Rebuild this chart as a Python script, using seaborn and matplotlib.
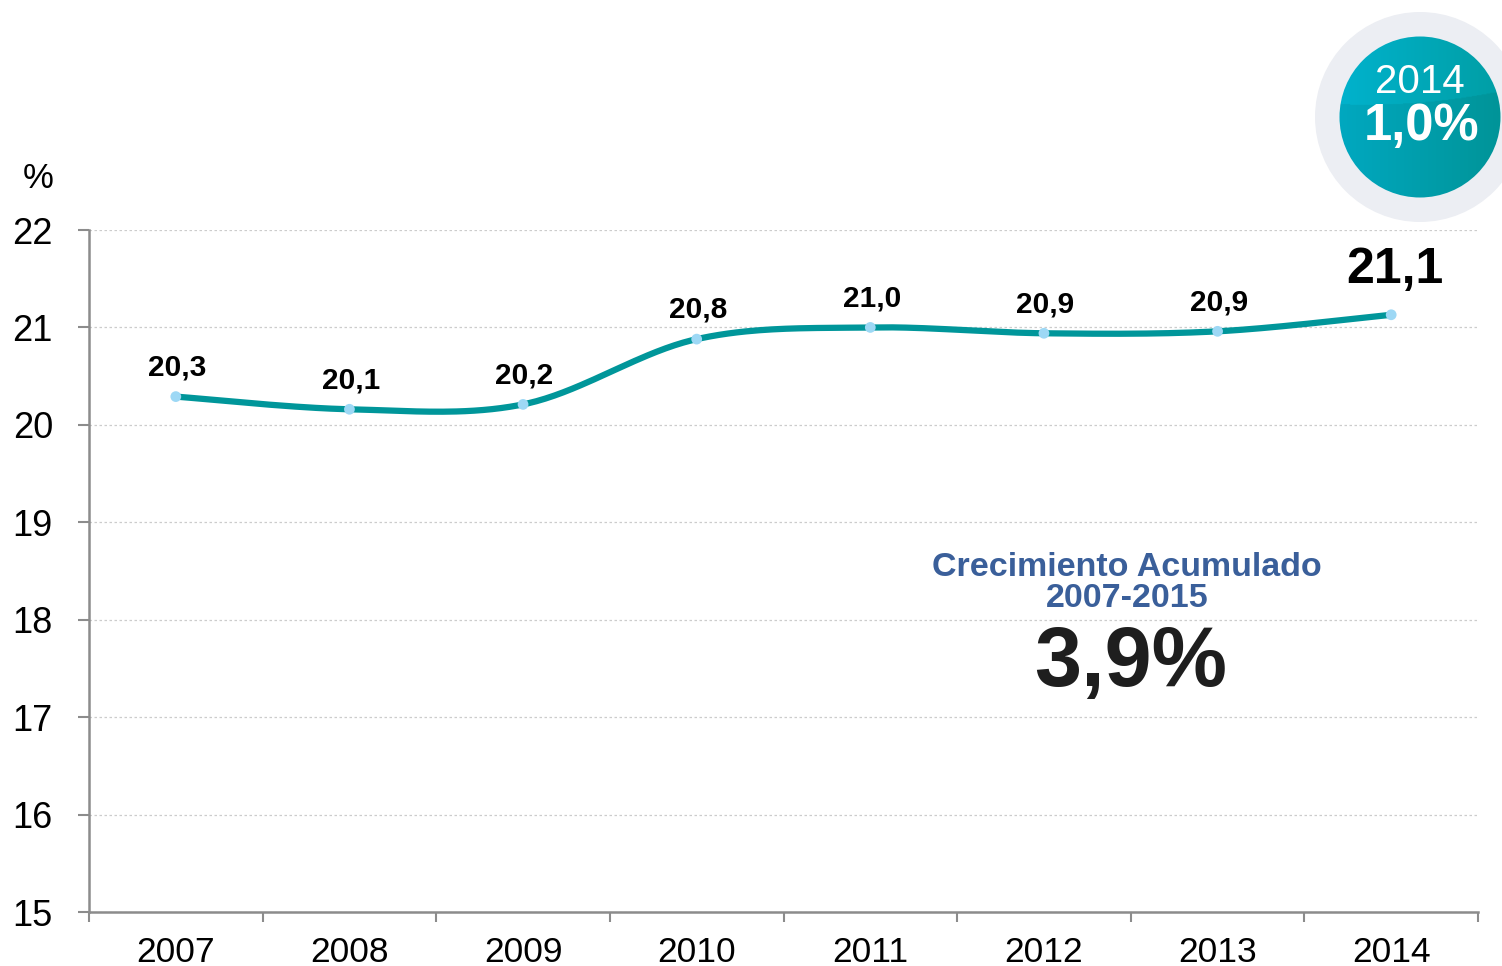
import numpy as np
import matplotlib
matplotlib.use("Agg")
import matplotlib.pyplot as plt
from matplotlib.patches import Circle
import seaborn as sns
import pandas as pd

# ---- data ----
years = ["2007", "2008", "2009", "2010", "2011", "2012", "2013", "2014"]
values = [20.29, 20.16, 20.21, 20.88, 21.00, 20.94, 20.96, 21.13]
labels = ["20,3", "20,1", "20,2", "20,8", "21,0", "20,9", "20,9", "21,1"]
y_ticks = [15, 16, 17, 18, 19, 20, 21, 22]
badge_year = "2014"
badge_value = "1,0%"
growth_title = "Crecimiento Acumulado\n2007-2015"
growth_value = "3,9%"

sns.set_theme(style="white")
plt.rcParams['font.family'] = ['Liberation Sans', 'DejaVu Sans']

W, H = 1502, 966
fig = plt.figure(figsize=(W / 100, H / 100), dpi=100)
ax = fig.add_axes([89 / W, 1 - 912 / H, (1478 - 89) / W, (912 - 230) / H])

x = np.arange(len(years))
y = np.array(values)

# Catmull-Rom style smoothing (like Excel smoothed line)
px = np.concatenate([[x[0]], x, [x[-1]]]).astype(float)
py = np.concatenate([[y[0]], y, [y[-1]]])
sx, sy = [], []
t = np.linspace(0, 1, 40)
for i in range(1, len(px) - 2):
    p0 = np.array([px[i], py[i]])
    p3 = np.array([px[i + 1], py[i + 1]])
    c1 = p0 + (np.array([px[i + 1], py[i + 1]]) - np.array([px[i - 1], py[i - 1]])) / 6
    c2 = p3 - (np.array([px[i + 2], py[i + 2]]) - np.array([px[i], py[i]])) / 6
    for tt in t:
        b = ((1 - tt) ** 3) * p0 + 3 * ((1 - tt) ** 2) * tt * c1 + 3 * (1 - tt) * tt ** 2 * c2 + tt ** 3 * p3
        sx.append(b[0]); sy.append(b[1])
smooth = pd.DataFrame({"x": sx, "y": sy})

sns.lineplot(data=smooth, x="x", y="y", ax=ax, color="#00969a", linewidth=4.5,
             sort=False, estimator=None, zorder=3)
sns.scatterplot(x=x, y=y, ax=ax, color="#9dd8f5", s=60, edgecolor="none", zorder=4)

for i, (xi, yi, lab) in enumerate(zip(x, y, labels)):
    if i == len(x) - 1:
        ax.annotate(lab, (xi, yi), xytext=(3, 32), textcoords="offset points",
                    ha="center", va="center", fontsize=36, fontweight="bold", color="black")
    else:
        ax.annotate(lab, (xi, yi), xytext=(1, 21), textcoords="offset points",
                    ha="center", va="center", fontsize=21.5, fontweight="bold", color="black")

ax.set_xlim(-0.5, len(years) - 0.5)
ax.set_ylim(15, 22)
ax.set_yticks(y_ticks)
ax.set_yticklabels([str(v) for v in y_ticks], fontsize=26)
ax.set_xticks(x)
ax.set_xticklabels(years, fontsize=25.5)
ax.set_xticks(np.arange(-0.5, len(years), 1.0), minor=True)
ax.tick_params(axis="x", which="major", bottom=True, length=0, pad=17)
ax.tick_params(axis="x", which="minor", bottom=True, length=7, width=1.5, color="#8c8c8c", direction="out")
ax.tick_params(axis="y", which="major", left=True, length=8, width=1.5, color="#8c8c8c",
               direction="out", pad=18, labelcolor="black")
ax.tick_params(axis="x", labelcolor="black")
ax.set_xlabel(""); ax.set_ylabel("")
for s in ["top", "right"]:
    ax.spines[s].set_visible(False)
for s in ["left", "bottom"]:
    ax.spines[s].set_color("#8c8c8c")
    ax.spines[s].set_linewidth(1.8)
ax.yaxis.grid(True, linestyle=(0, (2, 2)), color="#cccccc", linewidth=0.9)
ax.set_axisbelow(True)

# "%" unit label
fig.text(38 / W, 1 - 178 / H, "%", fontsize=25, ha="center", va="center", color="black")

# growth annotation
fig.text(1127 / W, 1 - 583 / H, growth_title, fontsize=24.5, fontweight="bold",
         color="#3a5f9a", ha="center", va="center", linespacing=1.0)
fig.text(1131 / W, 1 - 664 / H, growth_value, fontsize=61, fontweight="bold",
         color="#1e1e1e", ha="center", va="center")

# badge circle
ov = fig.add_axes([0, 0, 1, 1], zorder=5)
ov.set_xlim(0, W); ov.set_ylim(H, 0); ov.axis("off")
ov.patch.set_alpha(0)
cx, cy = 1420, 117
ov.add_patch(Circle((cx, cy), 105, facecolor="#eceef3", edgecolor="none"))
inner = Circle((cx, cy), 80.5, facecolor="none", edgecolor="none")
ov.add_patch(inner)
gx = np.linspace(0, 1, 200)
gy = np.linspace(0, 1, 200)
GX, GY = np.meshgrid(gx, gy)
c_left = np.array([0x00, 0xa8, 0xc0]) / 255
c_right = np.array([0x00, 0x94, 0x98]) / 255
img = c_left[None, None, :] * (1 - GX[..., None]) + c_right[None, None, :] * GX[..., None]
cap = GY < (0.42 - 0.12 * GX ** 2 + 0.04 * GX)
img = np.where(cap[..., None], np.clip(img + np.array([0.0, 0.04, 0.05]), 0, 1), img)
im = ov.imshow(img, extent=(cx - 81, cx + 81, cy + 81, cy - 81), origin="upper",
               interpolation="bilinear", zorder=2)
im.set_clip_path(inner)
ov.text(cx, 82, badge_year, fontsize=29, color="white", ha="center", va="center", zorder=3)
ov.text(cx + 2, 127, badge_value, fontsize=36.5, fontweight="bold", color="white",
        ha="center", va="center", zorder=3)
ov.set_xlim(0, W); ov.set_ylim(H, 0)

fig.savefig("out.png", dpi=100)
